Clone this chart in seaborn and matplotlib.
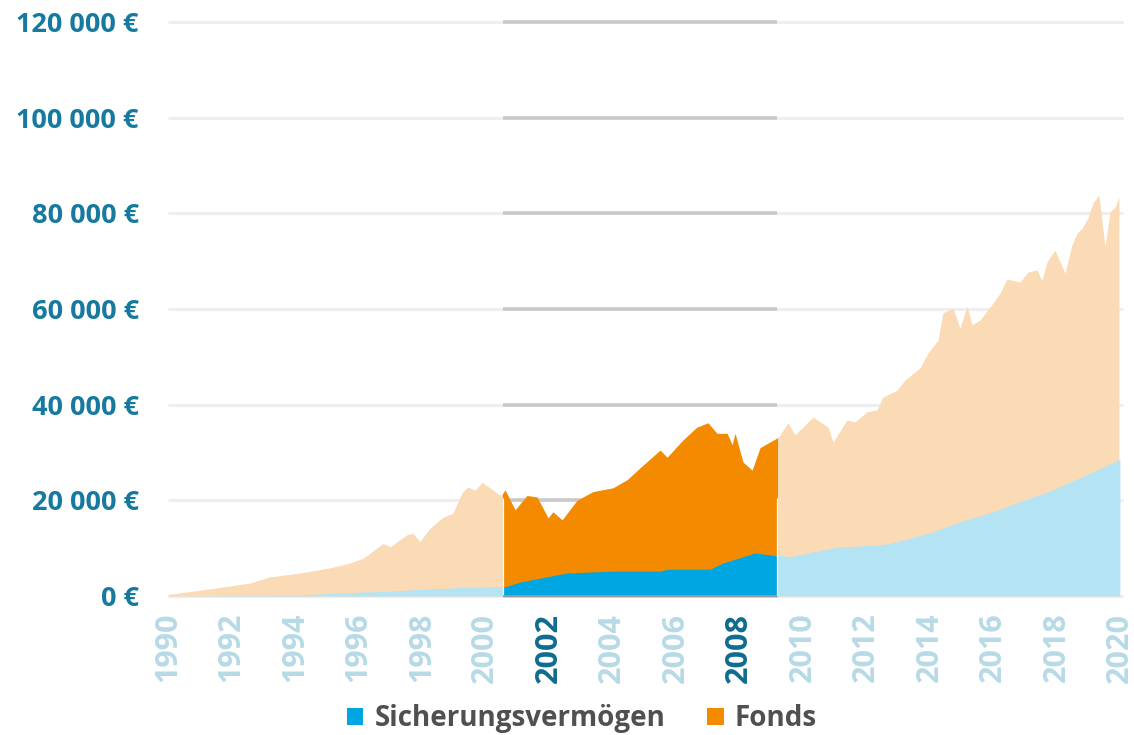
import numpy as np
import pandas as pd
import matplotlib
matplotlib.use("Agg")
import matplotlib.pyplot as plt
import seaborn as sns
from matplotlib.patches import Rectangle, Patch

# ---- data (values in thousand €) ----
total_years = [1990.0, 1991.54, 1992.58, 1993.21, 1994.16, 1995.11, 1995.74, 1996.15,
               1996.78, 1997.0, 1997.53, 1997.72, 1997.94, 1998.26, 1998.67, 1998.98,
               1999.27, 1999.45, 1999.68, 1999.90, 2000.15, 2000.46, 2000.56,
               2000.62, 2000.94, 2001.31, 2001.63, 2001.98, 2002.13, 2002.42, 2002.89,
               2003.39, 2004.02, 2004.47, 2004.88, 2005.51, 2005.73, 2006.23, 2006.67,
               2007.02, 2007.30, 2007.62, 2007.78, 2007.87, 2008.12, 2008.41, 2008.66,
               2009.19,
               2009.29, 2009.54, 2009.76, 2010.33, 2010.80, 2010.96, 2011.40, 2011.65,
               2012.03, 2012.34, 2012.53, 2012.97, 2013.23, 2013.70, 2013.95, 2014.27,
               2014.42, 2014.74, 2014.96, 2015.18, 2015.34, 2015.59, 2015.91, 2016.22,
               2016.44, 2016.85, 2017.10, 2017.39, 2017.54, 2017.70, 2017.95, 2018.27,
               2018.49, 2018.65, 2018.81, 2018.99, 2019.15, 2019.34, 2019.53, 2019.69,
               2019.85, 2019.97]
total_values = [0.3, 1.7, 2.7, 4.0, 4.8, 5.9, 6.9, 7.9,
                11.0, 10.3, 12.8, 13.1, 11.4, 14.2, 16.5, 17.3,
                21.7, 22.8, 22.1, 23.8, 22.6, 21.1, 21.5,
                22.2, 18.0, 21.0, 20.7, 16.3, 17.6, 15.9, 20.0,
                21.8, 22.6, 24.3, 26.8, 30.5, 29.0, 32.6, 35.3,
                36.2, 34.0, 34.0, 31.6, 34.0, 28.0, 26.3, 31.0,
                33.0,
                33.7, 36.2, 33.7, 37.4, 35.3, 32.2, 36.8, 36.4,
                38.5, 38.9, 41.6, 43.0, 45.2, 47.7, 50.8, 53.5,
                59.2, 60.2, 56.0, 60.6, 56.7, 57.7, 60.4, 63.3,
                66.3, 65.6, 67.7, 68.2, 66.0, 69.8, 72.3, 67.5,
                73.4, 75.9, 76.9, 79.0, 82.2, 83.8, 73.0, 80.3,
                81.3, 83.4]

safe_years = [1990.0, 1994.0, 1995.0, 1996.0, 1997.0, 1998.0, 1999.0, 2000.56,
              2000.62, 2001.09, 2001.94, 2002.57, 2004.02, 2005.51, 2005.73, 2007.08,
              2007.49, 2008.12, 2008.50, 2009.19,
              2009.29, 2009.60, 2010.33, 2011.08, 2012.44, 2012.85, 2014.01, 2014.87,
              2016.0, 2016.85, 2017.70, 2018.74, 2020.0]
safe_values = [0.0, 0.2, 0.5, 0.8, 1.0, 1.4, 1.7, 2.0,
               1.9, 2.9, 4.0, 4.8, 5.2, 5.2, 5.6, 5.6,
               6.9, 8.2, 9.0, 8.4,
               8.6, 8.2, 9.2, 10.2, 10.7, 11.1, 13.2, 15.3,
               17.6, 19.7, 21.7, 24.7, 28.6]

highlight_start, highlight_end = 2000.56, 2009.19
y_ticks = [0, 20000, 40000, 60000, 80000, 100000, 120000]
x_ticks = list(range(1990, 2021, 2))
bold_years = [2002, 2008]
series_names = ["Sicherungsvermögen", "Fonds"]

# ---- colours ----
c_orange = "#F38A00"
c_orange_light = "#FBDBB5"
c_blue = "#00A6E1"
c_blue_light = "#B4E4F4"
c_ytick = "#16799F"
c_xtick_light = "#B7DAE6"
c_xtick_dark = "#0E6C90"
c_grid = "#EEEEEE"
c_grid_dark = "#C9C9C9"

sns.set_theme(style="white")
plt.rcParams['font.family'] = ['Open Sans', 'DejaVu Sans']

df_total = pd.DataFrame({"Jahr": total_years, "Wert": np.array(total_values) * 1000})
df_safe = pd.DataFrame({"Jahr": safe_years, "Wert": np.array(safe_values) * 1000})

fig = plt.figure(figsize=(11.34, 7.35), dpi=100)
ax = fig.add_axes([0.14815, 0.18912, 0.8422, 0.78095])

sns.lineplot(data=df_total, x="Jahr", y="Wert", ax=ax, color=c_orange, lw=0, legend=False)
sns.lineplot(data=df_safe, x="Jahr", y="Wert", ax=ax, color=c_blue, lw=0, legend=False)

# grid lines
ax.hlines(y_ticks, 1990, 2020.1, color=c_grid, lw=2.2, zorder=0, clip_on=False)
ax.hlines(y_ticks, highlight_start, highlight_end, color=c_grid_dark, lw=2.6, zorder=0.5, clip_on=False)

# light areas
ax.fill_between(df_total["Jahr"], 0, df_total["Wert"], color=c_orange_light, lw=0, zorder=1)
ax.fill_between(df_safe["Jahr"], 0, df_safe["Wert"], color=c_blue_light, lw=0, zorder=2)

# highlighted areas
clip = Rectangle((highlight_start, -1000), highlight_end - highlight_start, 200000,
                 transform=ax.transData, facecolor="none", edgecolor="none")
ax.add_patch(clip)
f1 = ax.fill_between(df_total["Jahr"], 0, df_total["Wert"], color=c_orange, lw=0, zorder=3)
f2 = ax.fill_between(df_safe["Jahr"], 0, df_safe["Wert"], color=c_blue, lw=0, zorder=4)
f1.set_clip_path(clip)
f2.set_clip_path(clip)
ax.vlines([highlight_start, highlight_end], 0, 20500, color="white", lw=0.9, zorder=5)
ax.hlines([0], highlight_start, highlight_end, color="#9A9A9A", lw=1.2, zorder=6, clip_on=False)

ax.set_xlim(1990, 2020.1)
ax.set_ylim(0, 120000)
for s in ax.spines.values():
    s.set_visible(False)
ax.set_xlabel("")
ax.set_ylabel("")

ax.set_yticks(y_ticks)
ax.set_yticklabels([f"{v:,}".replace(",", " ") + " €" for v in y_ticks])
ax.tick_params(axis="y", length=0, pad=21, labelsize=19.5, labelcolor=c_ytick)
for t in ax.get_yticklabels():
    t.set_fontweight("bold")

ax.set_xticks(x_ticks)
ax.set_xticklabels([str(y) for y in x_ticks], rotation=90, va="top", ha="center")
ax.tick_params(axis="x", length=0, pad=12, labelsize=22)
for t, yr in zip(ax.get_xticklabels(), x_ticks):
    t.set_family(['Liberation Sans Narrow', 'Open Sans', 'DejaVu Sans'])
    t.set_fontweight("bold")
    t.set_color(c_xtick_dark if yr in bold_years else c_xtick_light)

handles = [Patch(facecolor=c_blue, edgecolor="none", label=series_names[0]),
           Patch(facecolor=c_orange, edgecolor="none", label=series_names[1])]
fig.legend(handles=handles, loc="center", bbox_to_anchor=(0.513, 0.022), ncol=2,
           frameon=False, handlelength=0.6, handleheight=0.6, handletextpad=0.4,
           columnspacing=1.5, prop={"size": 20, "weight": "bold"}, labelcolor="#505050")

fig.savefig("out.png", dpi=100)
